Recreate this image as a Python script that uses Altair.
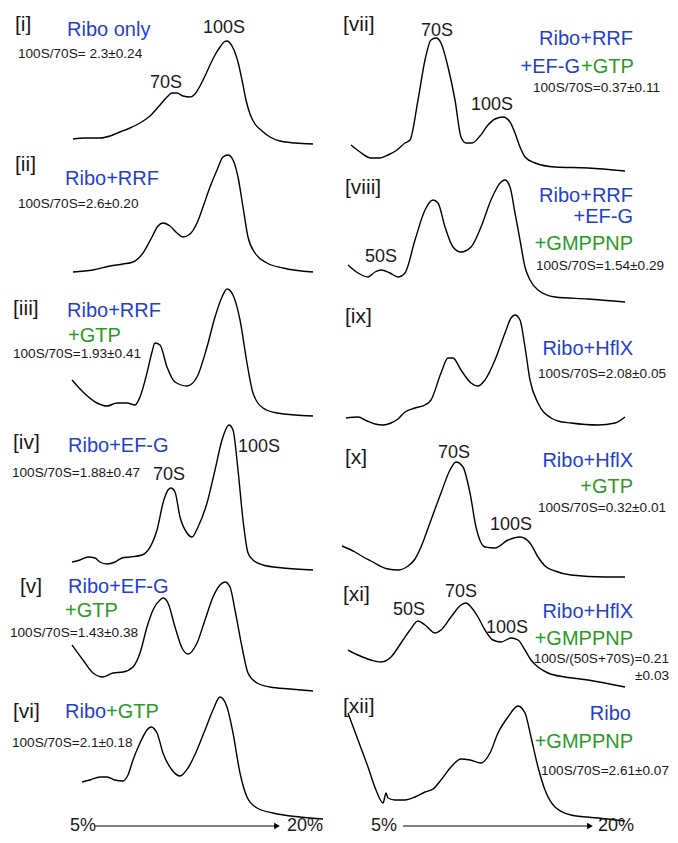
import altair as alt
import pandas as pd

# ---------------- data: gradient traces ----------------
# position along the gradient (arbitrary units) and relative absorbance
pos_i = [0,12,27,37,47,57,67,77,87,94,99,104,110,117,122,127,132,137,142,147,151,154,157,161,165,169,173,177,182,189,197,207,222,240]
abs_i = [6,7,7,9,13,17,22,29,40,48,52,52,49,48,51,59,69,80,90,98,103,104,102,95,83,65,45,31,21,14,8,4,2,1]

pos_ii = [0,20,37,50,60,70,79,85,90,97,104,110,117,124,130,137,144,150,155,160,165,170,175,182,194,210,240]
abs_ii = [3,5,9,11,13,22,38,49,52,49,42,38,41,52,68,88,105,118,120,115,98,68,38,22,12,7,3]

pos_iii = [0,11,25,35,45,55,63,68,75,80,83,88,95,103,115,125,135,143,150,155,161,168,175,181,191,205,241]
abs_iii = [38,26,15,12,15,15,13,21,45,66,75,73,51,36,32,41,71,101,121,129,123,98,55,25,10,5,2]

pos_iv = [0,8,16,23,28,35,43,50,58,70,85,91,96,99,103,108,115,120,126,135,143,150,157,161,166,171,176,181,191,211,241]
abs_iv = [10,12,15,14,10,8,10,14,15,17,42,69,82,84,80,55,39,35,45,69,102,132,147,142,102,52,19,12,7,4,2]

pos_v = [0,11,21,31,41,51,61,68,75,81,88,91,96,103,110,116,125,133,141,148,153,158,163,170,176,185,198,218,241]
abs_v = [48,33,20,16,20,21,26,40,66,83,93,95,90,66,45,39,50,73,96,108,111,106,83,46,20,10,6,4,2]

pos_vi = [0,8,18,25,33,41,46,51,58,65,69,75,81,90,98,106,115,123,131,138,145,151,158,165,175,191,218,241]
abs_vi = [39,41,44,44,41,40,46,61,78,91,94,88,68,51,45,53,71,91,111,124,114,88,48,24,13,8,4,2]

pos_vii = [0,9,20,29,37,46,54,59,67,74,80,85,90,97,104,110,115,121,129,137,144,152,159,164,169,174,184,204,237,274]
abs_vii = [28,21,15,15,18,23,30,33,73,113,133,135,130,106,73,36,30,30,37,48,54,56,51,40,26,16,10,6,5,2]

pos_viii = [0,10,20,27,33,42,50,57,67,77,85,90,97,105,113,123,133,143,153,157,162,167,172,177,182,190,207,240,277]
abs_viii = [39,31,27,32,34,31,27,31,64,94,104,101,77,57,52,57,77,104,122,124,117,91,64,37,24,14,7,5,2]

pos_ix = [0,12,21,29,37,45,52,59,69,79,85,95,102,107,115,125,132,139,149,159,165,169,174,179,184,192,205,212,225,252,269,279]
abs_ix = [10,11,7,4,3,5,9,16,20,23,28,55,70,70,58,45,42,48,68,95,110,113,108,81,48,25,10,7,5,3,5,11]

pos_x = [0,13,23,29,38,46,56,66,73,79,89,99,108,114,121,128,134,143,153,166,178,188,196,203,213,229,263,283]
abs_x = [34,28,22,19,14,11,10,14,21,33,60,87,110,118,113,87,53,33,32,40,43,37,23,14,9,5,3,3]

pos_xi = [0,10,23,33,43,53,62,70,77,87,93,103,113,118,123,130,137,145,153,163,170,177,183,190,200,217,240,277]
abs_xi = [40,35,30,28,33,47,60,69,65,57,60,73,85,87,83,73,60,50,48,52,50,40,30,23,17,13,10,3]

pos_xii = [0,10,20,28,35,38,40,47,57,67,77,85,93,103,113,122,133,142,150,160,170,177,183,190,197,207,223,250,277]
abs_xii = [110,83,56,33,20,30,25,23,23,26,31,34,43,56,64,63,60,70,90,106,117,110,86,56,33,16,8,5,2]

traces = {
    "i": (pos_i, abs_i), "ii": (pos_ii, abs_ii), "iii": (pos_iii, abs_iii),
    "iv": (pos_iv, abs_iv), "v": (pos_v, abs_v), "vi": (pos_vi, abs_vi),
    "vii": (pos_vii, abs_vii), "viii": (pos_viii, abs_viii), "ix": (pos_ix, abs_ix),
    "x": (pos_x, abs_x), "xi": (pos_xi, abs_xi), "xii": (pos_xii, abs_xii),
}

# ---------------- layout (page pixels): trace start x, trace baseline y ----------------
W, H, M = 662, 827, 8
layout = {
    "i": (73, 145), "ii": (73, 275), "iii": (72, 418), "iv": (72, 572),
    "v": (72, 693), "vi": (82, 821),
    "vii": (351, 173), "viii": (348, 304), "ix": (346, 428), "x": (342, 580),
    "xi": (348, 690), "xii": (348, 823),
}

BLUE = "#1f3fd1"
GREEN = "#2b9a26"
INK = "#1a1a1a"
FONT = "Liberation Sans"

layers = []
for key, (pos, ab) in traces.items():
    sx, by = layout[key]
    df = pd.DataFrame({"pos": pos, "A": ab})
    x0 = -(sx - M)
    y0 = by - M - H
    layers.append(
        alt.Chart(df).mark_line(color="black", strokeWidth=1.4, interpolate="monotone").encode(
            x=alt.X("pos:Q", scale=alt.Scale(domain=[x0, x0 + W], nice=False, zero=False), axis=None),
            y=alt.Y("A:Q", scale=alt.Scale(domain=[y0, y0 + H], nice=False, zero=False), axis=None),
        )
    )

one = alt.Data(values=[{}])


def label(txt, x, y, size, color, align="left"):
    return alt.Chart(one).mark_text(
        text=txt, font=FONT, fontSize=size, color=color, align=align, baseline="alphabetic"
    ).encode(x=alt.value(x - M), y=alt.value(y - M))


NUM, LAB, RAT, PK = 21, 20, 13.6, 18
texts = [
    # left column
    ("[i]", 15, 31, NUM, INK, "left"),
    ("Ribo only", 67, 36, LAB, BLUE, "left"),
    ("100S/70S= 2.3\u00b10.24", 18, 58, RAT, INK, "left"),
    ("70S", 150, 88, PK, INK, "left"),
    ("100S", 203, 33, PK, INK, "left"),

    ("[ii]", 15, 171, NUM, INK, "left"),
    ("Ribo+RRF", 65, 185, LAB, BLUE, "left"),
    ("100S/70S=2.6\u00b10.20", 18, 208, RAT, INK, "left"),

    ("[iii]", 13, 315, NUM, INK, "left"),
    ("Ribo+RRF", 67, 317, LAB, BLUE, "left"),
    ("+GTP", 68, 342, LAB, GREEN, "left"),
    ("100S/70S=1.93\u00b10.41", 13, 358, RAT, INK, "left"),

    ("[iv]", 13, 449, NUM, INK, "left"),
    ("Ribo+EF-G", 68, 452, LAB, BLUE, "left"),
    ("100S/70S=1.88\u00b10.47", 12, 477, RAT, INK, "left"),
    ("70S", 153, 480, PK, INK, "left"),
    ("100S", 238, 452, PK, INK, "left"),

    ("[v]", 20, 593, NUM, INK, "left"),
    ("Ribo+EF-G", 68, 593, LAB, BLUE, "left"),
    ("+GTP", 65, 617, LAB, GREEN, "left"),
    ("100S/70S=1.43\u00b10.38", 10, 637, RAT, INK, "left"),

    ("[vi]", 13, 718, NUM, INK, "left"),
    ("Ribo", 65, 718, LAB, BLUE, "left"),
    ("+GTP", 106, 718, LAB, GREEN, "left"),
    ("100S/70S=2.1\u00b10.18", 12, 747, RAT, INK, "left"),
    ("5%", 70, 831, PK, INK, "left"),
    ("20%", 287, 831, PK, INK, "left"),

    # right column
    ("[vii]", 343, 31, NUM, INK, "left"),
    ("70S", 421, 36, PK, INK, "left"),
    ("Ribo+RRF", 633, 45, LAB, BLUE, "right"),
    ("+EF-G", 580, 73, LAB, BLUE, "right"),
    ("+GTP", 581, 73, LAB, GREEN, "left"),
    ("100S/70S=0.37\u00b10.11", 533, 92, RAT, INK, "left"),
    ("100S", 471, 110, PK, INK, "left"),

    ("[viii]", 345, 194, NUM, INK, "left"),
    ("Ribo+RRF", 633, 202, LAB, BLUE, "right"),
    ("+EF-G", 633, 223, LAB, BLUE, "right"),
    ("+GMPPNP", 633, 250, LAB, GREEN, "right"),
    ("100S/70S=1.54\u00b10.29", 536, 270, RAT, INK, "left"),
    ("50S", 365, 262, PK, INK, "left"),

    ("[ix]", 345, 323, NUM, INK, "left"),
    ("Ribo+HflX", 633, 355, LAB, BLUE, "right"),
    ("100S/70S=2.08\u00b10.05", 538, 378, RAT, INK, "left"),

    ("[x]", 345, 464, NUM, INK, "left"),
    ("70S", 438, 458, PK, INK, "left"),
    ("Ribo+HflX", 633, 467, LAB, BLUE, "right"),
    ("+GTP", 633, 493, LAB, GREEN, "right"),
    ("100S/70S=0.32\u00b10.01", 538, 512, RAT, INK, "left"),
    ("100S", 490, 530, PK, INK, "left"),

    ("[xi]", 343, 601, NUM, INK, "left"),
    ("50S", 393, 615, PK, INK, "left"),
    ("70S", 445, 597, PK, INK, "left"),
    ("100S", 486, 633, PK, INK, "left"),
    ("Ribo+HflX", 633, 618, LAB, BLUE, "right"),
    ("+GMPPNP", 633, 645, LAB, GREEN, "right"),
    ("100S/(50S+70S)=0.21", 669, 663, RAT, INK, "right"),
    ("\u00b10.03", 669, 680, RAT, INK, "right"),

    ("[xii]", 343, 713, NUM, INK, "left"),
    ("Ribo", 631, 720, LAB, BLUE, "right"),
    ("+GMPPNP", 633, 748, LAB, GREEN, "right"),
    ("100S/70S=2.61\u00b10.07", 669, 775, RAT, INK, "right"),
    ("5%", 371, 831, PK, INK, "left"),
    ("20%", 598, 831, PK, INK, "left"),
]
for t in texts:
    layers.append(label(*t))

# gradient arrows
for xa, xb in [(95, 280), (403, 593)]:
    layers.append(
        alt.Chart(one).mark_rule(color="black", strokeWidth=1).encode(
            x=alt.value(xa - M), x2=alt.value(xb - 4 - M), y=alt.value(826 - M)
        )
    )
    layers.append(
        alt.Chart(one).mark_point(shape="triangle-right", filled=True, size=45, color="black", opacity=1).encode(
            x=alt.value(xb - 3 - M), y=alt.value(826 - M)
        )
    )

chart = (
    alt.layer(*layers)
    .resolve_scale(x="independent", y="independent")
    .properties(width=W, height=H, padding=0, autosize=alt.AutoSizeParams(type="none"), background="white")
    .configure_view(stroke=None)
)

chart.save("out.html", embed_options={"renderer": "svg", "actions": False})
